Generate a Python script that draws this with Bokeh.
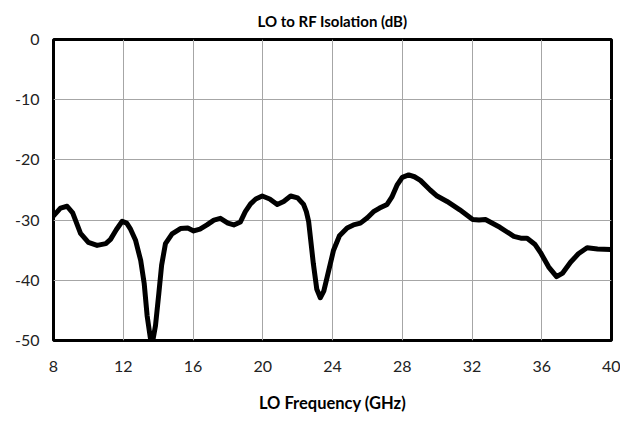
from bokeh.plotting import figure
from bokeh.models import Range1d, FixedTicker
from bokeh.embed import file_html
from bokeh.resources import INLINE

freq_ghz = [8.0, 8.4, 8.78, 9.1, 9.55, 10.0, 10.5, 11.0, 11.27, 11.6, 11.94, 12.2, 12.4, 12.7,
            13.0, 13.2, 13.37, 13.55, 13.66, 13.85, 14.04, 14.2, 14.42, 14.8, 15.28, 15.7,
            16.04, 16.4, 16.8, 17.2, 17.57, 18.0, 18.34, 18.72, 19.0, 19.3, 19.6, 19.97,
            20.4, 20.83, 21.2, 21.6, 22.0, 22.34, 22.5, 22.63, 22.9, 23.1, 23.3, 23.5,
            23.7, 24.06, 24.4, 24.84, 25.2, 25.6, 26.0, 26.35, 26.7, 27.13, 27.4, 27.7,
            28.0, 28.37, 28.7, 29.04, 29.6, 30.0, 30.57, 31.3, 32.04, 32.4, 32.77, 33.6,
            34.4, 34.8, 35.16, 35.6, 35.93, 36.4, 36.85, 37.2, 37.65, 38.1, 38.6, 39.2, 39.94]
isolation_db = [-29.3, -28.0, -27.7, -28.8, -32.2, -33.7, -34.2, -33.9, -33.2, -31.6, -30.2, -30.5, -31.4, -33.3,
                -36.7, -40.5, -45.9, -49.5, -50.6, -47.5, -42.2, -37.5, -33.9, -32.3, -31.4, -31.3,
                -31.8, -31.5, -30.8, -30.0, -29.7, -30.5, -30.8, -30.3, -28.6, -27.3, -26.5, -26.0,
                -26.5, -27.4, -26.9, -26.0, -26.3, -27.4, -28.6, -30.2, -37.2, -41.5, -42.9, -41.8,
                -39.4, -35.0, -32.6, -31.3, -30.8, -30.5, -29.6, -28.6, -28.0, -27.4, -26.2, -24.2,
                -22.9, -22.5, -22.8, -23.4, -25.0, -26.0, -26.9, -28.3, -29.9, -30.0, -29.9, -31.2,
                -32.7, -33.0, -33.0, -34.0, -35.4, -37.8, -39.4, -38.8, -37.0, -35.6, -34.6, -34.8, -34.9]

x_ticks = [8, 12, 16, 20, 24, 28, 32, 36, 40]
y_ticks = [0, -10, -20, -30, -40, -50]
y_tick_labels = {t: str(t) for t in y_ticks}

FONT = "Lato"

p = figure(width=620, height=415, output_backend="svg", toolbar_location=None,
           x_range=Range1d(8, 40), y_range=Range1d(-50, 0),
           title="LO to RF Isolation (dB)", x_axis_label="LO Frequency (GHz)",
           min_border_left=53, min_border_right=9, min_border_top=38, min_border_bottom=70)

p.line(freq_ghz, isolation_db, line_color="black", line_width=5, line_join="round", line_cap="round")

p.outline_line_color = "black"
p.outline_line_width = 3
p.outline_line_alpha = 1

p.title.align = "center"
p.title.text_font = FONT
p.title.text_font_size = "15px"
p.title.text_font_style = "bold"
p.title.text_color = "black"
p.title.standoff = 19

p.xaxis.ticker = FixedTicker(ticks=x_ticks)
p.yaxis.ticker = FixedTicker(ticks=y_ticks)
p.yaxis.major_label_overrides = y_tick_labels
for ax in (p.xaxis, p.yaxis):
    ax.axis_line_color = None
    ax.major_tick_line_color = None
    ax.minor_tick_line_color = None
    ax.major_label_text_font = FONT
    ax.major_label_text_font_size = "16px"
    ax.major_label_text_color = "#222222"
    ax.axis_label_text_font = FONT
    ax.axis_label_text_font_size = "16.5px"
    ax.axis_label_text_font_style = "bold"
    ax.axis_label_text_color = "black"
p.xaxis.major_label_standoff = 14
p.yaxis.major_label_standoff = 8
p.xaxis.axis_label_standoff = 18

p.xgrid.grid_line_color = "#a6a6a6"
p.ygrid.grid_line_color = "#a6a6a6"
p.xgrid.grid_line_width = 1
p.ygrid.grid_line_width = 1
p.background_fill_color = "white"
p.border_fill_color = "white"

open("out.html", "w").write(file_html(p, INLINE))
